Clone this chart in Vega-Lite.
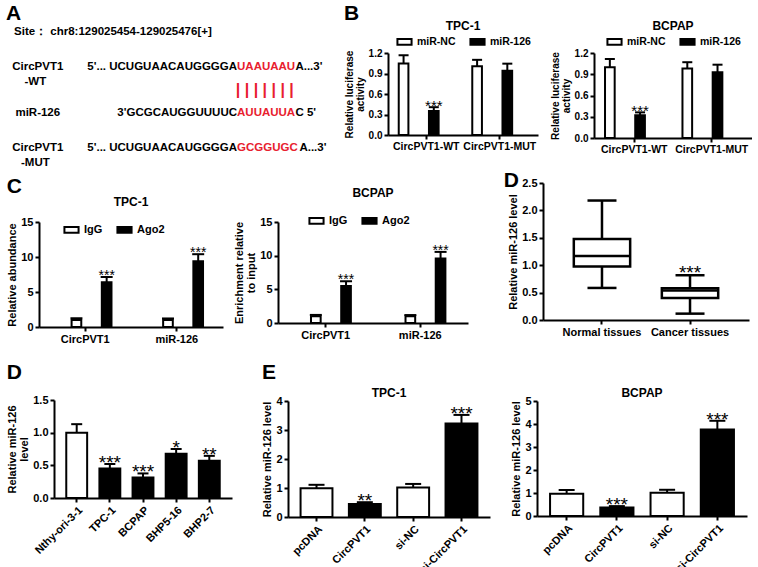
{
  "$schema": "https://vega.github.io/schema/vega-lite/v6.json",
  "padding": {"left": 5, "top": 2, "right": 0, "bottom": 0},
  "background": "white",
  "config": {
    "font": "Liberation Sans",
    "view": {"stroke": null},
    "axis": {"domainColor": "black", "domainWidth": 2, "tickColor": "black", "tickWidth": 2, "tickSize": 4, "labelColor": "black", "labelFontSize": 11, "labelFontWeight": "bold", "labelFont": "Liberation Sans", "titleFont": "Liberation Sans", "titleFontSize": 11, "titleFontWeight": "bold", "titleColor": "black", "titleLineHeight": 12, "grid": false, "labelPadding": 2, "titlePadding": 3, "labelOverlap": false},
    "axisX": {"labelAngle": 0},
    "title": {"font": "Liberation Sans", "fontSize": 12, "fontWeight": "bold", "color": "black", "anchor": "middle", "offset": 4},
    "tick": {"opacity": 1},
    "legend": {"orient": "top", "direction": "horizontal", "labelFontSize": 11, "labelFontWeight": "bold", "labelColor": "black", "labelFont": "Liberation Sans", "symbolType": "M-1,-0.4H1V0.4H-1Z", "symbolSize": 200, "symbolStrokeColor": "black", "symbolStrokeWidth": 2, "columnSpacing": 8, "labelOffset": 4, "padding": 0, "offset": 4, "layout": {"top": {"anchor": "middle"}}}
  },
  "datasets": {
    "empty": [],
    "seq": [
      {"row": "wt", "name": "CircPVT1", "name2": "-WT", "prefix": "5'... UCUGUAACAUGGGGA", "site": "UAAUAAU", "suffix": "A...3'"},
      {"row": "mir", "name": "miR-126", "name2": "", "prefix": "3'GCGCAUGGUUUUC", "site": "AUUAUUA", "suffix": "C 5'"},
      {"row": "mut", "name": "CircPVT1", "name2": "-MUT", "prefix": "5'... UCUGUAACAUGGGGA", "site": "GCGGUGC", "suffix": "A...3'"}
    ],
    "bT": [
      {"g": "CircPVT1-WT", "t": "miR-NC", "v": 1.045, "u": 1.167, "s": ""},
      {"g": "CircPVT1-WT", "t": "miR-126", "v": 0.353, "u": 0.407, "s": "***"},
      {"g": "CircPVT1-MUT", "t": "miR-NC", "v": 1.005, "u": 1.10, "s": ""},
      {"g": "CircPVT1-MUT", "t": "miR-126", "v": 0.94, "u": 1.044, "s": ""}
    ],
    "bB": [
      {"g": "CircPVT1-WT", "t": "miR-NC", "v": 1.0, "u": 1.115, "s": ""},
      {"g": "CircPVT1-WT", "t": "miR-126", "v": 0.32, "u": 0.362, "s": "***"},
      {"g": "CircPVT1-MUT", "t": "miR-NC", "v": 0.98, "u": 1.07, "s": ""},
      {"g": "CircPVT1-MUT", "t": "miR-126", "v": 0.93, "u": 1.035, "s": ""}
    ],
    "cT": [
      {"g": "CircPVT1", "t": "IgG", "v": 1.0, "u": 1.25, "s": ""},
      {"g": "CircPVT1", "t": "Ago2", "v": 6.38, "u": 7.14, "s": "***"},
      {"g": "miR-126", "t": "IgG", "v": 1.0, "u": 1.22, "s": ""},
      {"g": "miR-126", "t": "Ago2", "v": 9.38, "u": 10.4, "s": "***"}
    ],
    "cB": [
      {"g": "CircPVT1", "t": "IgG", "v": 1.0, "u": 1.2, "s": ""},
      {"g": "CircPVT1", "t": "Ago2", "v": 5.5, "u": 6.2, "s": "***"},
      {"g": "miR-126", "t": "IgG", "v": 1.0, "u": 1.18, "s": ""},
      {"g": "miR-126", "t": "Ago2", "v": 9.57, "u": 10.56, "s": "***"}
    ],
    "box": [
      {"grp": "Normal tissues", "min": 0.585, "q1": 0.976, "median": 1.17, "q3": 1.476, "max": 2.18, "s": ""},
      {"grp": "Cancer tissues", "min": 0.116, "q1": 0.40, "median": 0.537, "q3": 0.58, "max": 0.817, "s": "***"}
    ],
    "dBar": [
      {"line": "Nthy-ori-3-1", "kind": "control", "v": 1.0, "u": 1.13, "s": ""},
      {"line": "TPC-1", "kind": "cancer", "v": 0.45, "u": 0.52, "s": "***"},
      {"line": "BCPAP", "kind": "cancer", "v": 0.315, "u": 0.376, "s": "***"},
      {"line": "BHP5-16", "kind": "cancer", "v": 0.676, "u": 0.75, "s": "*"},
      {"line": "BHP2-7", "kind": "cancer", "v": 0.57, "u": 0.645, "s": "**"}
    ],
    "eT": [
      {"c": "pcDNA", "kind": "control", "v": 0.99, "u": 1.11, "s": ""},
      {"c": "CircPVT1", "kind": "treated", "v": 0.45, "u": 0.51, "s": "**"},
      {"c": "si-NC", "kind": "control", "v": 1.02, "u": 1.14, "s": ""},
      {"c": "si-CircPVT1", "kind": "treated", "v": 3.22, "u": 3.52, "s": "***"}
    ],
    "eB": [
      {"c": "pcDNA", "kind": "control", "v": 0.97, "u": 1.13, "s": ""},
      {"c": "CircPVT1", "kind": "treated", "v": 0.37, "u": 0.43, "s": "***"},
      {"c": "si-NC", "kind": "control", "v": 1.01, "u": 1.14, "s": ""},
      {"c": "si-CircPVT1", "kind": "treated", "v": 3.76, "u": 4.14, "s": "***"}
    ]
  },
  "spacing": 0,
  "resolve": {"scale": {"fill": "independent"}, "legend": {"fill": "independent"}},
  "vconcat": [
    {
      "spacing": 0,
      "resolve": {"scale": {"fill": "independent"}, "legend": {"fill": "independent"}},
      "hconcat": [
        {"width": 1, "height": 1, "data": {"name": "empty"}, "mark": {"type": "point", "opacity": 0}},
        {
          "spacing": 14,
          "resolve": {"scale": {"fill": "independent"}, "legend": {"fill": "independent"}},
          "hconcat": [
            {
              "spacing": 0,
              "vconcat": [
                {"width": 1, "height": 1, "data": {"name": "empty"}, "mark": {"type": "point", "opacity": 0}},
                {
                  "title": {"text": "A", "fontSize": 21, "anchor": "start", "frame": "bounds", "offset": 2, "dx": -2},
                  "width": 322, "height": 116,
                  "data": {"name": "seq"},
                  "encoding": {
                    "y": {"field": "row", "type": "ordinal", "scale": {"type": "point", "domain": ["site", "s1", "s2", "wt", "s3", "bars", "s4", "mir", "s5", "s6", "mut"], "padding": 0}, "axis": null}
                  },
                  "layer": [
                    {
                      "data": {"values": [{"row": "site", "label": "Site：  chr8:129025454-129025476[+]"}]},
                      "mark": {"type": "text", "align": "left", "baseline": "middle", "fontSize": 11.5, "fontWeight": "bold", "color": "black"},
                      "encoding": {"x": {"datum": 0.75, "type": "quantitative", "scale": {"domain": [0, 40]}, "axis": null}, "text": {"field": "label"}}
                    },
                    {
                      "mark": {"type": "text", "align": "center", "baseline": "middle", "fontSize": 11.5, "fontWeight": "bold", "color": "black"},
                      "encoding": {"x": {"datum": 3.7, "type": "quantitative"}, "text": {"field": "name"}}
                    },
                    {
                      "mark": {"type": "text", "align": "center", "baseline": "middle", "fontSize": 11.5, "fontWeight": "bold", "color": "black", "dy": 15},
                      "encoding": {"x": {"datum": 3.4, "type": "quantitative"}, "text": {"field": "name2"}}
                    },
                    {
                      "mark": {"type": "text", "align": "right", "baseline": "middle", "fontSize": 11.5, "fontWeight": "bold", "color": "black"},
                      "encoding": {"x": {"datum": 28.45, "type": "quantitative"}, "text": {"field": "prefix"}}
                    },
                    {
                      "mark": {"type": "text", "align": "left", "baseline": "middle", "fontSize": 11.5, "fontWeight": "bold", "color": "#e8202e"},
                      "encoding": {"x": {"datum": 28.45, "type": "quantitative"}, "text": {"field": "site"}}
                    },
                    {
                      "transform": [{"filter": "datum.row !== 'mut'"}],
                      "mark": {"type": "text", "align": "left", "baseline": "middle", "fontSize": 11.5, "fontWeight": "bold", "color": "black"},
                      "encoding": {"x": {"datum": 35.7, "type": "quantitative"}, "text": {"field": "suffix"}}
                    },
                    {
                      "transform": [{"filter": "datum.row === 'mut'"}],
                      "mark": {"type": "text", "align": "left", "baseline": "middle", "fontSize": 11.5, "fontWeight": "bold", "color": "black"},
                      "encoding": {"x": {"datum": 36.2, "type": "quantitative"}, "text": {"field": "suffix"}}
                    },
                    {
                      "data": {"values": [{"row": "bars", "label": "| | | | | | |"}]},
                      "mark": {"type": "text", "align": "left", "baseline": "middle", "fontSize": 16, "fontWeight": "bold", "color": "#e8202e"},
                      "encoding": {"x": {"datum": 28.3, "type": "quantitative"}, "text": {"field": "label"}}
                    }
                  ]
                }
              ]
            },
            {
              "spacing": 0,
              "resolve": {"scale": {"fill": "independent"}, "legend": {"fill": "independent"}},
              "vconcat": [
                {"width": 1, "height": 1, "data": {"name": "empty"}, "mark": {"type": "point", "opacity": 0}},
                {
                  "title": {"text": "B", "fontSize": 21, "anchor": "start", "frame": "bounds", "offset": -4},
                  "spacing": 12,
                  "resolve": {"scale": {"fill": "independent"}, "legend": {"fill": "independent"}},
                  "hconcat": [
                    {
                      "title": {"text": "TPC-1", "offset": 0},
                      "width": 150, "height": 82,
                      "data": {"name": "bT"},
                      "encoding": {
                        "x": {"field": "g", "type": "nominal", "sort": ["CircPVT1-WT", "CircPVT1-MUT"], "scale": {"paddingInner": 0.1, "paddingOuter": 0.07}, "axis": {"title": null, "labelFontSize": 10.5}},
                        "xOffset": {"field": "t", "type": "nominal", "sort": ["miR-NC", "miR-126"], "scale": {"paddingInner": 0.36, "paddingOuter": 0.37}}
                      },
                      "layer": [
                        {"mark": {"type": "bar", "stroke": "black", "strokeWidth": 2}, "encoding": {"y": {"field": "v", "type": "quantitative", "scale": {"domain": [0, 1.2], "nice": false}, "axis": {"values": [0, 0.3, 0.6, 0.9, 1.2], "tickCount": 20, "format": ".1f", "labelFontSize": 10, "titleFontSize": 10, "titleLineHeight": 11, "title": ["Relative luciferase", "activity"]}}, "fill": {"field": "t", "type": "nominal", "scale": {"domain": ["miR-NC", "miR-126"], "range": ["white", "black"]}, "legend": {"title": null, "labelFontSize": 10.5}}}},
                        {"mark": {"type": "rule", "color": "black", "strokeWidth": 2}, "encoding": {"y": {"field": "v", "type": "quantitative"}, "y2": {"field": "u"}}},
                        {"mark": {"type": "tick", "color": "black", "thickness": 2, "size": 10}, "encoding": {"y": {"field": "u", "type": "quantitative"}}},
                        {"mark": {"type": "text", "color": "black", "fontSize": 15, "baseline": "alphabetic", "dy": 4}, "encoding": {"y": {"field": "u", "type": "quantitative"}, "text": {"field": "s"}}}
                      ]
                    },
                    {
                      "title": {"text": "BCPAP", "offset": 0},
                      "width": 158, "height": 85,
                      "data": {"name": "bB"},
                      "encoding": {
                        "x": {"field": "g", "type": "nominal", "sort": ["CircPVT1-WT", "CircPVT1-MUT"], "scale": {"paddingInner": 0.1, "paddingOuter": 0.07}, "axis": {"title": null, "labelFontSize": 10.5}},
                        "xOffset": {"field": "t", "type": "nominal", "sort": ["miR-NC", "miR-126"], "scale": {"paddingInner": 0.36, "paddingOuter": 0.37}}
                      },
                      "layer": [
                        {"mark": {"type": "bar", "stroke": "black", "strokeWidth": 2}, "encoding": {"y": {"field": "v", "type": "quantitative", "scale": {"domain": [0, 1.2], "nice": false}, "axis": {"values": [0, 0.3, 0.6, 0.9, 1.2], "tickCount": 20, "format": ".1f", "labelFontSize": 10, "titleFontSize": 10, "titleLineHeight": 11, "title": ["Relative luciferase", "activity"]}}, "fill": {"field": "t", "type": "nominal", "scale": {"domain": ["miR-NC", "miR-126"], "range": ["white", "black"]}, "legend": {"title": null, "labelFontSize": 10.5}}}},
                        {"mark": {"type": "rule", "color": "black", "strokeWidth": 2}, "encoding": {"y": {"field": "v", "type": "quantitative"}, "y2": {"field": "u"}}},
                        {"mark": {"type": "tick", "color": "black", "thickness": 2, "size": 10}, "encoding": {"y": {"field": "u", "type": "quantitative"}}},
                        {"mark": {"type": "text", "color": "black", "fontSize": 15, "baseline": "alphabetic", "dy": 4}, "encoding": {"y": {"field": "u", "type": "quantitative"}, "text": {"field": "s"}}}
                      ]
                    }
                  ]
                }
              ]
            }
          ]
        }
      ]
    },
    {
      "spacing": 0,
      "resolve": {"scale": {"fill": "independent"}, "legend": {"fill": "independent"}},
      "hconcat": [
        {"width": 1, "height": 1, "data": {"name": "empty"}, "mark": {"type": "point", "opacity": 0}},
        {
          "spacing": 35,
          "resolve": {"scale": {"fill": "independent"}, "legend": {"fill": "independent"}},
          "hconcat": [
            {
              "spacing": 0,
              "resolve": {"scale": {"fill": "independent"}, "legend": {"fill": "independent"}},
              "vconcat": [
                {"width": 1, "height": 7, "data": {"name": "empty"}, "mark": {"type": "point", "opacity": 0}},
                {
                  "title": {"text": "C", "fontSize": 21, "anchor": "start", "frame": "bounds", "offset": -10},
                  "spacing": 10,
                  "resolve": {"scale": {"fill": "independent"}, "legend": {"fill": "independent"}},
                  "hconcat": [
                    {
                      "title": {"text": "TPC-1", "offset": 7},
                      "width": 184, "height": 105,
                      "data": {"name": "cT"},
                      "encoding": {
                        "x": {"field": "g", "type": "nominal", "sort": ["CircPVT1", "miR-126"], "scale": {"paddingInner": 0.25, "paddingOuter": 0.13}, "axis": {"title": null}},
                        "xOffset": {"field": "t", "type": "nominal", "sort": ["IgG", "Ago2"], "scale": {"paddingInner": 0.37, "paddingOuter": 0.17}}
                      },
                      "layer": [
                        {"mark": {"type": "bar", "stroke": "black", "strokeWidth": 2}, "encoding": {"y": {"field": "v", "type": "quantitative", "scale": {"domain": [0, 15], "nice": false}, "axis": {"values": [0, 5, 10, 15], "tickCount": 20, "format": "d", "title": "Relative abundance"}}, "fill": {"field": "t", "type": "nominal", "scale": {"domain": ["IgG", "Ago2"], "range": ["white", "black"]}, "legend": {"title": null, "orient": "none", "legendX": 24, "legendY": -1}}}},
                        {"mark": {"type": "rule", "color": "black", "strokeWidth": 2}, "encoding": {"y": {"field": "v", "type": "quantitative"}, "y2": {"field": "u"}}},
                        {"mark": {"type": "tick", "color": "black", "thickness": 2, "size": 12}, "encoding": {"y": {"field": "u", "type": "quantitative"}}},
                        {"mark": {"type": "text", "color": "black", "fontSize": 14, "baseline": "alphabetic", "dy": 3}, "encoding": {"y": {"field": "u", "type": "quantitative"}, "text": {"field": "s"}}}
                      ]
                    },
                    {
                      "title": {"text": "BCPAP", "offset": 12},
                      "width": 190, "height": 101,
                      "data": {"name": "cB"},
                      "encoding": {
                        "x": {"field": "g", "type": "nominal", "sort": ["CircPVT1", "miR-126"], "scale": {"paddingInner": 0.25, "paddingOuter": 0.13}, "axis": {"title": null}},
                        "xOffset": {"field": "t", "type": "nominal", "sort": ["IgG", "Ago2"], "scale": {"paddingInner": 0.37, "paddingOuter": 0.17}}
                      },
                      "layer": [
                        {"mark": {"type": "bar", "stroke": "black", "strokeWidth": 2}, "encoding": {"y": {"field": "v", "type": "quantitative", "scale": {"domain": [0, 15], "nice": false}, "axis": {"values": [0, 5, 10, 15], "tickCount": 20, "format": "d", "title": ["Enrichment relative", "to input"]}}, "fill": {"field": "t", "type": "nominal", "scale": {"domain": ["IgG", "Ago2"], "range": ["white", "black"]}, "legend": {"title": null, "orient": "none", "legendX": 30, "legendY": -10}}}},
                        {"mark": {"type": "rule", "color": "black", "strokeWidth": 2}, "encoding": {"y": {"field": "v", "type": "quantitative"}, "y2": {"field": "u"}}},
                        {"mark": {"type": "tick", "color": "black", "thickness": 2, "size": 12}, "encoding": {"y": {"field": "u", "type": "quantitative"}}},
                        {"mark": {"type": "text", "color": "black", "fontSize": 14, "baseline": "alphabetic", "dy": 3}, "encoding": {"y": {"field": "u", "type": "quantitative"}, "text": {"field": "s"}}}
                      ]
                    }
                  ]
                }
              ]
            },
            {
              "spacing": 0,
              "vconcat": [
                {"width": 1, "height": 1, "data": {"name": "empty"}, "mark": {"type": "point", "opacity": 0}},
                {
                  "title": {"text": "D", "fontSize": 21, "anchor": "start", "frame": "bounds", "offset": -14, "dx": -4},
                  "width": 206, "height": 137,
                  "data": {"name": "box"},
                  "encoding": {
                    "x": {"field": "grp", "type": "nominal", "sort": ["Normal tissues", "Cancer tissues"], "scale": {"paddingInner": 0.36, "paddingOuter": 0.35}, "axis": {"title": null}}
                  },
                  "layer": [
                    {"mark": {"type": "rule", "color": "black", "strokeWidth": 2.5}, "encoding": {"y": {"field": "min", "type": "quantitative", "scale": {"domain": [0, 2.5], "nice": false}, "axis": {"values": [0, 0.5, 1, 1.5, 2, 2.5], "tickCount": 20, "format": ".1f", "title": "Relative miR-126 level"}}, "y2": {"field": "q1"}}},
                    {"mark": {"type": "rule", "color": "black", "strokeWidth": 2.5}, "encoding": {"y": {"field": "q3", "type": "quantitative"}, "y2": {"field": "max"}}},
                    {"mark": {"type": "bar", "fill": "white", "stroke": "black", "strokeWidth": 2.5}, "encoding": {"y": {"field": "q1", "type": "quantitative"}, "y2": {"field": "q3"}}},
                    {"mark": {"type": "tick", "color": "black", "thickness": 2.5, "size": 56}, "encoding": {"y": {"field": "median", "type": "quantitative"}}},
                    {"mark": {"type": "tick", "color": "black", "thickness": 2.5, "size": 29}, "encoding": {"y": {"field": "min", "type": "quantitative"}}},
                    {"mark": {"type": "tick", "color": "black", "thickness": 2.5, "size": 29}, "encoding": {"y": {"field": "max", "type": "quantitative"}}},
                    {"mark": {"type": "text", "color": "black", "fontSize": 19, "baseline": "alphabetic", "dy": 4}, "encoding": {"y": {"field": "max", "type": "quantitative"}, "text": {"field": "s"}}}
                  ]
                }
              ]
            }
          ]
        }
      ]
    },
    {
      "spacing": 0,
      "resolve": {"scale": {"fill": "independent"}, "legend": {"fill": "independent"}},
      "hconcat": [
        {"width": 1, "height": 1, "data": {"name": "empty"}, "mark": {"type": "point", "opacity": 0}},
        {
          "spacing": 29,
          "resolve": {"scale": {"fill": "independent"}, "legend": {"fill": "independent"}},
          "hconcat": [
            {
              "spacing": 0,
              "vconcat": [
                {"width": 1, "height": 18, "data": {"name": "empty"}, "mark": {"type": "point", "opacity": 0}},
                {
                  "title": {"text": "D", "fontSize": 21, "anchor": "start", "frame": "bounds", "offset": 11},
                  "width": 178, "height": 98,
                  "data": {"name": "dBar"},
                  "encoding": {
                    "x": {"field": "line", "type": "nominal", "sort": ["Nthy-ori-3-1", "TPC-1", "BCPAP", "BHP5-16", "BHP2-7"], "scale": {"paddingInner": 0.37, "paddingOuter": 0.37}, "axis": {"title": null, "labelAngle": -45, "labelAlign": "right", "labelBaseline": "top"}}
                  },
                  "layer": [
                    {"mark": {"type": "bar", "stroke": "black", "strokeWidth": 2}, "encoding": {"y": {"field": "v", "type": "quantitative", "scale": {"domain": [0, 1.5], "nice": false}, "axis": {"values": [0, 0.5, 1, 1.5], "tickCount": 20, "format": ".1f", "title": ["Relative miR-126", "level"]}}, "fill": {"field": "kind", "type": "nominal", "scale": {"domain": ["control", "cancer"], "range": ["white", "black"]}, "legend": null}}},
                    {"mark": {"type": "rule", "color": "black", "strokeWidth": 2}, "encoding": {"y": {"field": "v", "type": "quantitative"}, "y2": {"field": "u"}}},
                    {"mark": {"type": "tick", "color": "black", "thickness": 2, "size": 11}, "encoding": {"y": {"field": "u", "type": "quantitative"}}},
                    {"mark": {"type": "text", "color": "black", "fontSize": 19, "baseline": "alphabetic", "dy": 5}, "encoding": {"y": {"field": "u", "type": "quantitative"}, "text": {"field": "s"}}}
                  ]
                }
              ]
            },
            {
              "spacing": 0,
              "resolve": {"scale": {"fill": "independent"}, "legend": {"fill": "independent"}},
              "vconcat": [
                {"width": 1, "height": 18, "data": {"name": "empty"}, "mark": {"type": "point", "opacity": 0}},
                {
                  "title": {"text": "E", "fontSize": 21, "anchor": "start", "frame": "bounds", "offset": 4},
                  "spacing": 20,
                  "resolve": {"scale": {"fill": "independent"}, "legend": {"fill": "independent"}},
                  "hconcat": [
                    {
                      "title": {"text": "TPC-1", "offset": -5},
                      "width": 202, "height": 116,
                      "data": {"name": "eT"},
                      "encoding": {
                        "x": {"field": "c", "type": "nominal", "sort": ["pcDNA", "CircPVT1", "si-NC", "si-CircPVT1"], "scale": {"paddingInner": 0.34, "paddingOuter": 0.26}, "axis": {"title": null, "labelAngle": -45, "labelAlign": "right", "labelBaseline": "top"}}
                      },
                      "layer": [
                        {"mark": {"type": "bar", "stroke": "black", "strokeWidth": 2}, "encoding": {"y": {"field": "v", "type": "quantitative", "scale": {"domain": [0, 4], "nice": false}, "axis": {"values": [0, 1, 2, 3, 4], "tickCount": 20, "format": "d", "title": "Relative miR-126 level"}}, "fill": {"field": "kind", "type": "nominal", "scale": {"domain": ["control", "treated"], "range": ["white", "black"]}, "legend": null}}},
                        {"mark": {"type": "rule", "color": "black", "strokeWidth": 2}, "encoding": {"y": {"field": "v", "type": "quantitative"}, "y2": {"field": "u"}}},
                        {"mark": {"type": "tick", "color": "black", "thickness": 2, "size": 16}, "encoding": {"y": {"field": "u", "type": "quantitative"}}},
                        {"mark": {"type": "text", "color": "black", "fontSize": 19, "baseline": "alphabetic", "dy": 5}, "encoding": {"y": {"field": "u", "type": "quantitative"}, "text": {"field": "s"}}}
                      ]
                    },
                    {
                      "title": {"text": "BCPAP", "offset": -5},
                      "width": 210, "height": 115,
                      "data": {"name": "eB"},
                      "encoding": {
                        "x": {"field": "c", "type": "nominal", "sort": ["pcDNA", "CircPVT1", "si-NC", "si-CircPVT1"], "scale": {"paddingInner": 0.34, "paddingOuter": 0.26}, "axis": {"title": null, "labelAngle": -45, "labelAlign": "right", "labelBaseline": "top"}}
                      },
                      "layer": [
                        {"mark": {"type": "bar", "stroke": "black", "strokeWidth": 2}, "encoding": {"y": {"field": "v", "type": "quantitative", "scale": {"domain": [0, 5], "nice": false}, "axis": {"values": [0, 1, 2, 3, 4, 5], "tickCount": 20, "format": "d", "title": "Relative miR-126 level"}}, "fill": {"field": "kind", "type": "nominal", "scale": {"domain": ["control", "treated"], "range": ["white", "black"]}, "legend": null}}},
                        {"mark": {"type": "rule", "color": "black", "strokeWidth": 2}, "encoding": {"y": {"field": "v", "type": "quantitative"}, "y2": {"field": "u"}}},
                        {"mark": {"type": "tick", "color": "black", "thickness": 2, "size": 16}, "encoding": {"y": {"field": "u", "type": "quantitative"}}},
                        {"mark": {"type": "text", "color": "black", "fontSize": 19, "baseline": "alphabetic", "dy": 5}, "encoding": {"y": {"field": "u", "type": "quantitative"}, "text": {"field": "s"}}}
                      ]
                    }
                  ]
                }
              ]
            }
          ]
        }
      ]
    }
  ]
}
